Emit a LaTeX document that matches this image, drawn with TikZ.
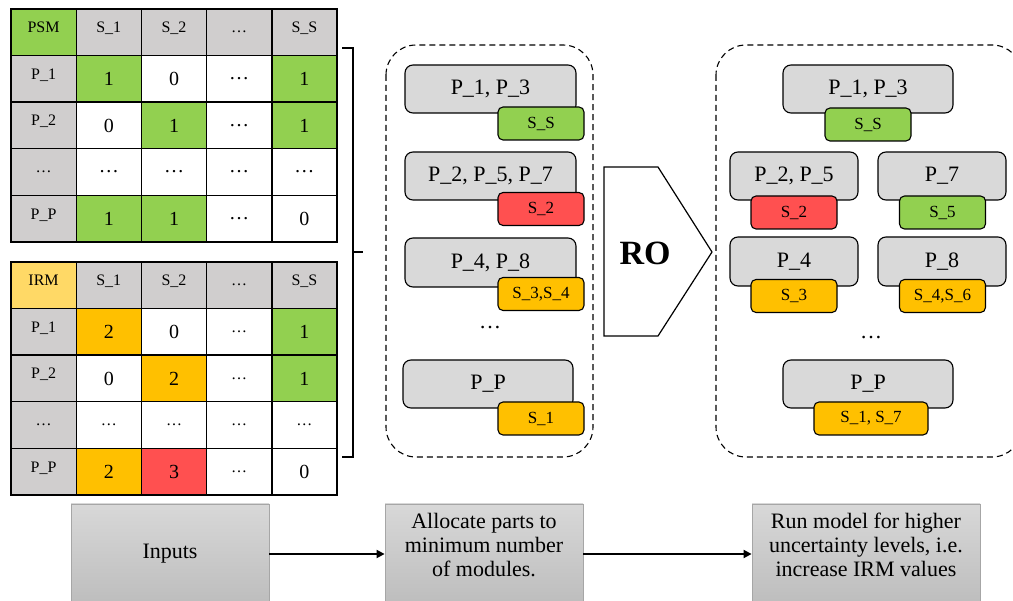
\documentclass[tikz,border=0pt]{standalone}
\usepackage{fontspec}
\setmainfont{Liberation Serif}
\usetikzlibrary{arrows.meta}

\definecolor{hdrgrey}{HTML}{D0CECE}
\definecolor{pgreen}{HTML}{92D050}
\definecolor{porange}{HTML}{FFC000}
\definecolor{pred}{HTML}{FF5050}
\definecolor{irmyellow}{HTML}{FFD966}
\definecolor{modgrey}{HTML}{D9D9D9}
\definecolor{flowtop}{HTML}{D8D8D8}
\definecolor{flowbot}{HTML}{BDBDBD}
\definecolor{flowedge}{HTML}{A6A6A6}

% one row of a 5-column matrix: name prefix, top edge, list of fill/text/style
\newcommand\matrow[3]{%
  \foreach[count=\ci] \mfill/\mtext/\mstyle in {#3}{%
    \node[cellbox,fill=\mfill,\mstyle] (#1-\ci) at ({11+(\ci-0.5)*65.2},{#2+23.3}) {\mtext};
  }}

\begin{document}
\begin{tikzpicture}[x=1pt,y=-1pt,
  cellbox/.style={draw=black,line width=1.4pt,minimum width=65.2pt,minimum height=46.6pt,inner sep=0pt},
  hdr/.style={font=\fontsize{16}{16}\selectfont,text height=11pt,text depth=10pt},
  val/.style={font=\fontsize{20}{20}\selectfont},
  valsm/.style={font=\fontsize{16}{16}\selectfont},
  modbox/.style={draw=black,fill=modgrey,rounded corners=8pt,line width=1.1pt,minimum height=48pt,inner sep=0pt,font=\fontsize{22}{22}\selectfont},
  tagbox/.style={draw=black,rounded corners=5pt,line width=1.1pt,minimum height=33pt,minimum width=86pt,inner sep=0pt,font=\fontsize{17}{17}\selectfont},
  groupbox/.style={draw=black,dash pattern=on 6pt off 4pt,line width=1.1pt,rounded corners=30pt},
  flowbox/.style={draw=flowedge,top color=flowtop,bottom color=flowbot,line width=0.8pt,minimum height=100pt,inner sep=0pt,font=\fontsize{22}{24}\selectfont},
  flowarrow/.style={line width=1.8pt,-{Triangle[length=8pt,width=8pt]}},
  dotsnode/.style={inner sep=0pt,font=\fontsize{22}{22}\selectfont}
]
\clip (0,0) rectangle (1013,601);
\fill[white] (0,0) rectangle (1013,601);

% ---- PSM matrix ----
\matrow{psm-0}{9}{pgreen/PSM/hdr, hdrgrey/S\_1/hdr, hdrgrey/S\_2/hdr, hdrgrey/\ldots/hdr, hdrgrey/S\_S/hdr}
\matrow{psm-1}{55.6}{hdrgrey/P\_1/hdr, pgreen/1/val, white/0/val, white/\ldots/val, pgreen/1/val}
\matrow{psm-2}{102.2}{hdrgrey/P\_2/hdr, white/0/val, pgreen/1/val, white/\ldots/val, pgreen/1/val}
\matrow{psm-3}{148.8}{hdrgrey/\ldots/hdr, white/\ldots/val, white/\ldots/val, white/\ldots/val, white/\ldots/val}
\matrow{psm-4}{195.4}{hdrgrey/P\_P/hdr, pgreen/1/val, pgreen/1/val, white/\ldots/val, white/0/val}

% ---- IRM matrix ----
\matrow{irm-0}{262}{irmyellow/IRM/hdr, hdrgrey/S\_1/hdr, hdrgrey/S\_2/hdr, hdrgrey/\ldots/hdr, hdrgrey/S\_S/hdr}
\matrow{irm-1}{308.6}{hdrgrey/P\_1/hdr, porange/2/val, white/0/val, white/\ldots/valsm, pgreen/1/val}
\matrow{irm-2}{355.2}{hdrgrey/P\_2/hdr, white/0/val, porange/2/val, white/\ldots/valsm, pgreen/1/val}
\matrow{irm-3}{401.8}{hdrgrey/\ldots/hdr, white/\ldots/valsm, white/\ldots/valsm, white/\ldots/valsm, white/\ldots/valsm}
\matrow{irm-4}{448.4}{hdrgrey/P\_P/hdr, porange/2/val, pred/3/val, white/\ldots/valsm, white/0/val}

% ---- bracket joining both matrices ----
\coordinate (brtop) at (342,48);
\coordinate (brbot) at (342,457);
\coordinate (brmid) at (353,252);
\coordinate (brtip) at (363,252);
\draw[line width=1.8pt] (brtop) -- (353,48) -- (353,457) -- (brbot);
\draw[line width=2pt] (brmid) -- (brtip);

% ---- initial allocation ----
\draw[groupbox] (386,45) rectangle (593,457);
\node[modbox,minimum width=171pt] (m1) at (490.5,89) {P\_1, P\_3};
\node[tagbox,fill=pgreen] (m1t) at (541,123.5) {S\_S};
\node[modbox,minimum width=171pt] (m2) at (490.5,176) {P\_2, P\_5, P\_7};
\node[tagbox,fill=pred] (m2t) at (541,209) {S\_2};
\node[modbox,minimum width=171pt,minimum height=49pt] (m3) at (490.5,262.5) {P\_4, P\_8};
\node[tagbox,fill=porange] (m3t) at (541,294) {S\_3,S\_4};
\node[dotsnode] (mdots) at (490,328) {\ldots};
\node[modbox,minimum width=170pt] (m4) at (488,384) {P\_P};
\node[tagbox,fill=porange] (m4t) at (541,418.5) {S\_1};

% ---- RO step ----
\node[font=\bfseries\fontsize{34}{34}\selectfont,inner sep=0pt] (ro) at (645,253) {RO};
\draw[line width=1.2pt] (604,167) -- (658,167) -- (712,252) -- (658,336) -- (604,336) -- cycle;

% ---- robust allocation ----
\draw[groupbox] (716,45) rectangle (1022,457);
\node[modbox,minimum width=170pt] (r1) at (868,89) {P\_1, P\_3};
\node[tagbox,fill=pgreen] (r1t) at (868,124.5) {S\_S};
\node[modbox,minimum width=128pt] (r2) at (794,176) {P\_2, P\_5};
\node[tagbox,fill=pred] (r2t) at (794,212.5) {S\_2};
\node[modbox,minimum width=128pt] (r3) at (942,176) {P\_7};
\node[tagbox,fill=pgreen] (r3t) at (942.5,212.5) {S\_5};
\node[modbox,minimum width=128pt,minimum height=49pt] (r4) at (794,261.5) {P\_4};
\node[tagbox,fill=porange] (r4t) at (794,296) {S\_3};
\node[modbox,minimum width=128pt,minimum height=49pt] (r5) at (942,261.5) {P\_8};
\node[tagbox,fill=porange] (r5t) at (942.5,296) {S\_4,S\_6};
\node[dotsnode] (rdots) at (871,338) {\ldots};
\node[modbox,minimum width=170pt] (r6) at (868,384) {P\_P};
\node[tagbox,fill=porange,minimum width=114pt] (r6t) at (871,418.5) {S\_1, S\_7};

% ---- process flow ----
\node[flowbox,minimum width=198pt] (f1) at (170,554) {Inputs};
\node[flowbox,minimum width=198pt] (f2) at (484,554)
  {\raisebox{6pt}[\height][\depth]{\begin{tabular}{@{}c@{}}Allocate parts to\\minimum number\\of modules.\end{tabular}}};
\node[flowbox,minimum width=228pt] (f3) at (866,554)
  {\raisebox{6pt}[\height][\depth]{\begin{tabular}{@{}c@{}}Run model for higher\\uncertainty levels, i.e.\\increase IRM values\end{tabular}}};
\draw[flowarrow] (f1.east) -- (f2.west);
\draw[flowarrow] (f2.east) -- (f3.west);
\end{tikzpicture}
\end{document}
